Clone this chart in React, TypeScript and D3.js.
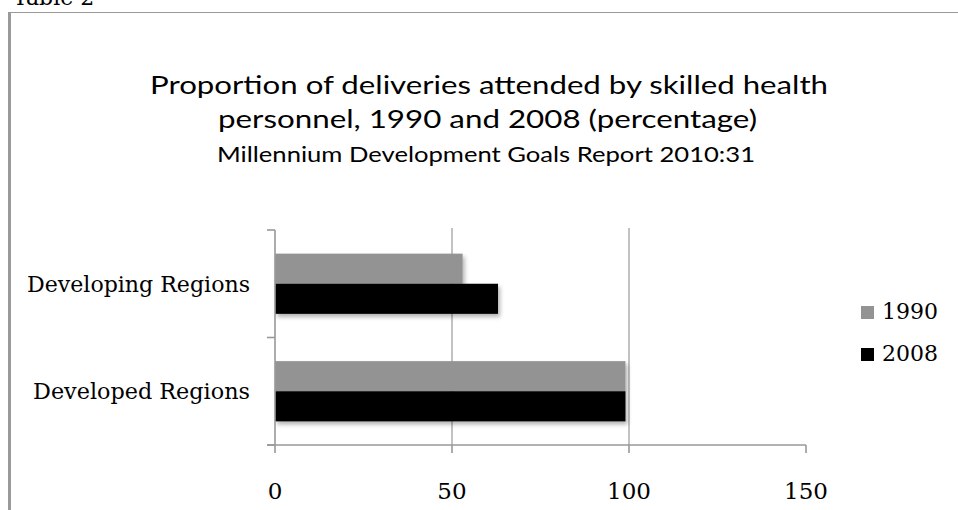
import React from "react";
import * as d3 from "d3";

// Chart data
const categories = ["Developing Regions", "Developed Regions"];
const categoryLabelWidths = [223, 217];
const seriesNames = ["1990", "2008"];
const values1990 = [53, 99];
const values2008 = [63, 99];
const xTicks = [0, 50, 100, 150];
const titleLines = [
  "Proportion of deliveries attended by skilled health",
  "personnel, 1990 and 2008 (percentage)",
];
const subtitle = "Millennium Development Goals Report 2010:31";
const caption = "Table 2";

const seriesColors: Record<string, string> = { "1990": "#939393", "2008": "#000000" };

const W = 958;
const H = 510;
const plot = { left: 275, right: 806, top: 230, bottom: 445 };

const serif = "'DejaVu Serif', serif";
const sans = "Lato, 'Open Sans', sans-serif";
const axisColor = "#999999";

export default function App() {
  const x = d3.scaleLinear().domain([0, 150]).range([plot.left, plot.right]);
  const yCat = d3.scaleBand<string>().domain(categories).range([plot.top, plot.bottom]);
  const groupH = yCat.step() * 0.56;
  const ySeries = d3.scaleBand<string>().domain(seriesNames).range([0, groupH]);
  const groupOffset = (yCat.step() - groupH) / 2;

  const rows = categories.map((c, i) => ({
    category: c,
    values: [
      { series: "1990", value: values1990[i] },
      { series: "2008", value: values2008[i] },
    ],
  }));

  const catBoundaries = [plot.top, ...categories.map((c) => (yCat(c) as number) + yCat.step())];

  return (
    <div style={{ position: "absolute", left: 0, top: 0, width: W, height: H, background: "#fff" }}>
      <svg width={W} height={H} viewBox={`0 0 ${W} ${H}`} style={{ display: "block" }}>
        <defs>
          <filter id="barShadow" x="-10%" y="-30%" width="130%" height="180%">
            <feDropShadow dx="2" dy="3" stdDeviation="2" floodColor="#000" floodOpacity="0.3" />
          </filter>
        </defs>
        <rect x={0} y={0} width={W} height={H} fill="#ffffff" />

        {/* caption above the frame */}
        <text x={13} y={5} fontFamily={serif} fontSize={22} fill="#000">
          {caption}
        </text>

        {/* frame */}
        <line x1={9.5} x2={W} y1={12.5} y2={12.5} stroke="#9a9a9a" strokeWidth={1.2} />
        <line x1={9.5} x2={9.5} y1={12} y2={H} stroke="#9a9a9a" strokeWidth={3} />

        {/* titles */}
        <text x={489} y={94} textAnchor="middle" fontFamily={sans} fontSize={25} fill="#000"
          textLength={678} lengthAdjust="spacingAndGlyphs">
          {titleLines[0]}
        </text>
        <text x={487.5} y={128} textAnchor="middle" fontFamily={sans} fontSize={25} fill="#000"
          textLength={539} lengthAdjust="spacingAndGlyphs">
          {titleLines[1]}
        </text>
        <text x={486} y={162} textAnchor="middle" fontFamily={sans} fontSize={22} fill="#000"
          textLength={538} lengthAdjust="spacingAndGlyphs">
          {subtitle}
        </text>

        {/* vertical gridlines */}
        {xTicks
          .filter((t) => t > 0 && t < 150)
          .map((t) => (
            <line key={`g${t}`} x1={x(t)} x2={x(t)} y1={plot.top - 2} y2={plot.bottom}
              stroke={axisColor} strokeWidth={1.2} />
          ))}

        {/* bars */}
        <g filter="url(#barShadow)">
          {rows.map((r) =>
            r.values.map((v) => (
              <rect
                key={`${r.category}-${v.series}`}
                x={x(0)}
                y={(yCat(r.category) as number) + groupOffset + (ySeries(v.series) as number)}
                width={x(v.value) - x(0)}
                height={ySeries.bandwidth()}
                fill={seriesColors[v.series]}
              />
            ))
          )}
        </g>

        {/* category axis */}
        <line x1={plot.left} x2={plot.left} y1={plot.top} y2={plot.bottom} stroke={axisColor} strokeWidth={1.6} />
        {catBoundaries.map((b, i) => (
          <line key={`ct${i}`} x1={plot.left - 8} x2={plot.left} y1={b} y2={b} stroke={axisColor} strokeWidth={1.6} />
        ))}
        {categories.map((c, i) => (
          <text key={c} x={250} y={(yCat(c) as number) + yCat.step() / 2 + 8} textAnchor="end"
            fontFamily={serif} fontSize={22} fill="#000"
            textLength={categoryLabelWidths[i]} lengthAdjust="spacingAndGlyphs">
            {c}
          </text>
        ))}

        {/* value axis */}
        <line x1={plot.left - 8} x2={plot.right} y1={plot.bottom} y2={plot.bottom} stroke={axisColor} strokeWidth={1.6} />
        {xTicks.map((t) => (
          <g key={`xt${t}`}>
            <line x1={x(t)} x2={x(t)} y1={plot.bottom} y2={plot.bottom + 8} stroke={axisColor} strokeWidth={1.6} />
            <text x={x(t)} y={499} textAnchor="middle" fontFamily={serif} fontSize={23} fill="#000">
              {t}
            </text>
          </g>
        ))}

        {/* legend */}
        {seriesNames.map((s, i) => (
          <g key={`lg${s}`} transform={`translate(861, ${306 + i * 42})`}>
            <rect x={0} y={0} width={13} height={13} fill={seriesColors[s]} />
            <text x={21} y={13} fontFamily={serif} fontSize={22} fill="#000">
              {s}
            </text>
          </g>
        ))}
      </svg>
    </div>
  );
}
